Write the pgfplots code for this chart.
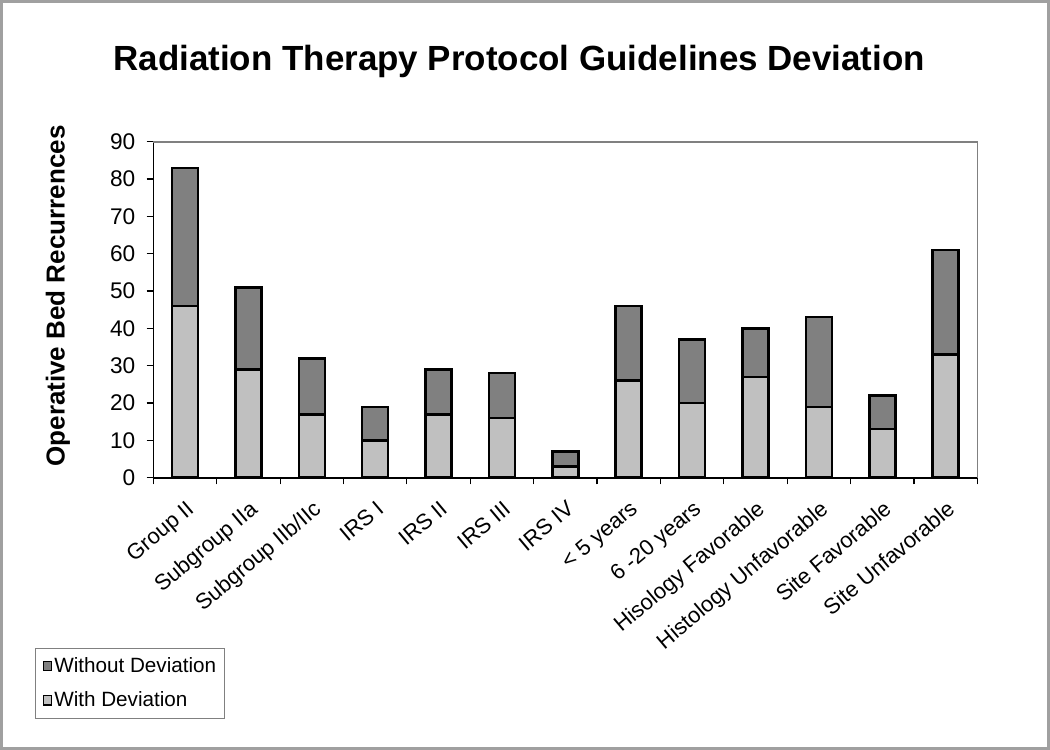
\documentclass[border=0pt]{standalone}
\usepackage{fontspec}
\setmainfont{Liberation Sans}
\usepackage{pgfplots}
\pgfplotsset{compat=1.18}
\definecolor{lightbar}{HTML}{C0C0C0}
\definecolor{darkbar}{HTML}{808080}
\definecolor{framegray}{HTML}{A0A0A0}
\begin{document}
\begin{tikzpicture}
\useasboundingbox (0,0) rectangle (787.5pt,562.5pt);
\fill[white] (0,0) rectangle (787.5pt,562.5pt);
\draw[framegray, line width=2.2pt] (1.1pt,1.1pt) rectangle (786.4pt,561.4pt);
\begin{axis}[
  at={(115pt,204.2pt)}, anchor=south west,
  scale only axis, width=618pt, height=252pt,
  ybar stacked, bar width=19.5pt,
  xmin=-0.5, xmax=12.5, ymin=0, ymax=90,
  ytick={0,10,...,90},
  xtick={0,...,12},
  xticklabels={Group II, Subgroup IIa, Subgroup IIb/IIc, IRS I, IRS II, IRS III, IRS IV, {< 5 years}, {6 -20 years}, Hisology Favorable, Histology Unfavorable, Site Favorable, Site Unfavorable},
  minor xtick={-0.5,0.5,...,12.5},
  xtick pos=left, ytick pos=left,
  major x tick style={draw=none},
  minor x tick style={black, line width=0.9pt},
  y tick style={black, line width=0.9pt},
  tick align=outside,
  major tick length=5pt, minor tick length=5pt,
  axis line style={draw=none},
  /pgf/number format/assume math mode=true,
  y tick label style={font=\fontsize{17}{20}\selectfont, xshift=-5pt},
  x tick label style={font=\fontsize{16.5}{19}\selectfont, rotate=40, anchor=north east, inner sep=2pt, yshift=-6.5pt, xshift=-5pt},
  title={Radiation Therapy Protocol Guidelines Deviation},
  title style={font=\fontsize{26.2}{30}\selectfont\bfseries, at={(axis description cs:0.444,1.215)}, anchor=center},
  ylabel={Operative Bed Recurrences},
  ylabel style={font=\fontsize{19.5}{23}\selectfont\bfseries, at={(axis description cs:-0.1157,0.541)}, anchor=center},
  legend style={at={(axis description cs:-0.1432,-0.5057)}, anchor=north west, draw=darkbar, line width=0.8pt,
    font=\fontsize{15.5}{18}\selectfont, row sep=9pt, inner xsep=5pt, inner ysep=5pt,
    nodes={inner xsep=1.5pt}},
  legend cell align=left,
  reverse legend,
  legend image code/.code={\draw[#1, line width=0.8pt] (0pt,-3.5pt) rectangle (6.5pt,3.5pt);},
  clip=false,
]
\addplot[fill=lightbar, draw=black, line width=1.9pt] coordinates {
 (0,46) (1,29) (2,17) (3,10) (4,17) (5,16) (6,3) (7,26) (8,20) (9,27) (10,19) (11,13) (12,33)};
\addlegendentry{With Deviation}
\addplot[fill=darkbar, draw=black, line width=1.9pt] coordinates {
 (0,37) (1,22) (2,15) (3,9) (4,12) (5,12) (6,4) (7,20) (8,17) (9,13) (10,24) (11,9) (12,28)};
\addlegendentry{Without Deviation}
\draw[darkbar, line width=1.2pt] (rel axis cs:0,1) -- (rel axis cs:1,1) -- (rel axis cs:1,0);
\draw[black, line width=1.2pt] (rel axis cs:0,1) -- (rel axis cs:0,0) -- (rel axis cs:1,0);
\end{axis}
\end{tikzpicture}
\end{document}
